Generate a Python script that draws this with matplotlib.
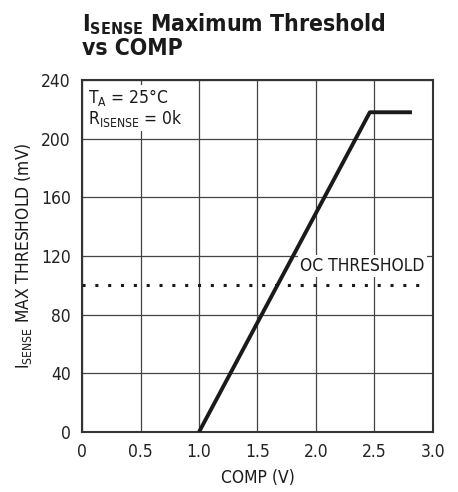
import matplotlib
matplotlib.use("Agg")
import matplotlib.pyplot as plt

# curve
comp_v = [1.0, 2.46, 2.82]
thresh_mv = [0.0, 218.0, 218.0]
oc_level = 100.0
oc_x = [0.0, 2.95]

x_ticks = [0, 0.5, 1.0, 1.5, 2.0, 2.5, 3.0]
x_labels = ["0", "0.5", "1.0", "1.5", "2.0", "2.5", "3.0"]
y_ticks = [0, 40, 80, 120, 160, 200, 240]

plt.rcParams["font.family"] = ["DejaVu Sans"]
plt.rcParams["font.stretch"] = "condensed"
plt.rcParams["mathtext.fontset"] = "custom"
plt.rcParams["mathtext.rm"] = "DejaVu Sans:stretch=condensed"
plt.rcParams["mathtext.bf"] = "DejaVu Sans:stretch=condensed:weight=bold"

FS = 12.5

fig = plt.figure(figsize=(4.58, 4.92), dpi=100)
ax = fig.add_axes([82 / 458, 1 - 432 / 492, 351 / 458, 352 / 492])

ax.set_xlim(0, 3.0)
ax.set_ylim(0, 240)
ax.set_xticks(x_ticks)
ax.set_xticklabels(x_labels)
ax.set_yticks(y_ticks)
ax.tick_params(length=0, labelsize=FS, pad=8, colors="#222222")
ax.grid(True, color="#444444", linewidth=0.9)
ax.set_axisbelow(True)
for s in ax.spines.values():
    s.set_linewidth(1.5)
    s.set_color("#333333")

ax.plot(comp_v, thresh_mv, color="#1a1a1a", linewidth=2.8, solid_capstyle="butt", zorder=3)
ax.plot(oc_x, [oc_level, oc_level], color="#1a1a1a", linewidth=2.2,
        linestyle=(0, (1, 3.2)), zorder=3)

ax.text(2.93, 107, "OC THRESHOLD", fontsize=FS, ha="right", va="bottom",
        color="#1a1a1a", zorder=2,
        bbox=dict(facecolor="white", edgecolor="none", pad=1.5))
ax.text(0.05, 235, "T$_\\mathrm{A}$ = 25°C\nR$_\\mathrm{ISENSE}$ = 0k", fontsize=FS,
        ha="left", va="top", linespacing=0.95, color="#1a1a1a", zorder=2,
        bbox=dict(facecolor="white", edgecolor="none", pad=1.5))

ax.set_xlabel("COMP (V)", fontsize=FS, labelpad=6, color="#1a1a1a")
ax.set_ylabel("I$_\\mathrm{SENSE}$ MAX THRESHOLD (mV)", fontsize=FS, labelpad=5,
              color="#1a1a1a")

fig.text(82 / 458, 1 - 11 / 492,
         "I$_\\mathbf{SENSE}$ Maximum Threshold\nvs COMP", fontsize=16.5,
         fontweight="bold", ha="left", va="top", linespacing=1.0, color="#1a1a1a")

fig.savefig("out.png", dpi=100)
